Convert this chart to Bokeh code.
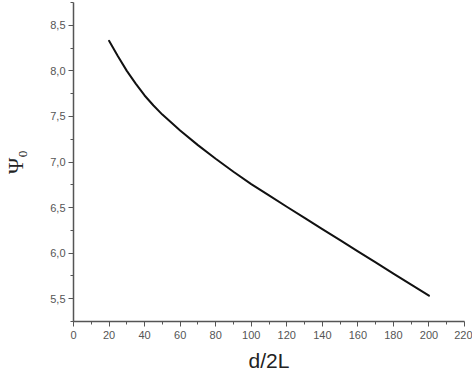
from bokeh.plotting import figure
from bokeh.models import Range1d, FixedTicker, CustomJSTickFormatter
from bokeh.embed import file_html
from bokeh.resources import INLINE

x_vals = [20, 25, 30, 35, 40, 45, 50, 60, 70, 80, 90, 100, 110, 120, 130, 140, 150, 160, 170, 180, 190, 200]
psi_vals = [8.33, 8.16, 8.00, 7.86, 7.73, 7.62, 7.52, 7.345, 7.185, 7.035, 6.893, 6.758, 6.633, 6.509,
            6.386, 6.264, 6.142, 6.020, 5.898, 5.776, 5.655, 5.533]
x_ticks = [0, 20, 40, 60, 80, 100, 120, 140, 160, 180, 200, 220]
y_ticks = [5.5, 6.0, 6.5, 7.0, 7.5, 8.0, 8.5]

p = figure(width=472, height=380, output_backend="svg", toolbar_location=None,
           x_range=Range1d(0, 220), y_range=Range1d(5.25, 8.75),
           min_border_left=73, min_border_right=8, min_border_top=2, min_border_bottom=59)
p.outline_line_color = None
p.grid.visible = False
p.background_fill_color = "white"
p.border_fill_color = "white"

p.line(x_vals, psi_vals, line_color="#111111", line_width=2, line_join="round", line_cap="round")

axcol = "#555555"
for ax in (p.xaxis[0], p.yaxis[0]):
    ax.axis_line_color = axcol
    ax.axis_line_width = 1.5
    ax.major_tick_line_color = axcol
    ax.minor_tick_line_color = axcol
    ax.major_tick_out = 5
    ax.major_tick_in = 0
    ax.minor_tick_out = 3
    ax.minor_tick_in = 0
    ax.major_label_text_font = "Liberation Sans"
    ax.major_label_text_font_size = "11px"
    ax.major_label_text_color = "#555555"

p.xaxis[0].ticker = FixedTicker(ticks=x_ticks, minor_ticks=list(range(10, 220, 20)))
p.yaxis[0].ticker = FixedTicker(ticks=y_ticks, minor_ticks=[5.25, 5.75, 6.25, 6.75, 7.25, 7.75, 8.25, 8.75])
p.yaxis[0].formatter = CustomJSTickFormatter(code="return tick.toFixed(1).replace('.', ',');")
p.xaxis[0].major_label_standoff = 4
p.yaxis[0].major_label_standoff = 3

p.xaxis[0].axis_label = "d/2L"
p.xaxis[0].axis_label_text_font = "Liberation Sans"
p.xaxis[0].axis_label_text_font_style = "normal"
p.xaxis[0].axis_label_text_font_size = "21px"
p.xaxis[0].axis_label_text_color = "#222222"
p.xaxis[0].axis_label_standoff = 7

p.yaxis[0].axis_label = "Ψ₀"
p.yaxis[0].axis_label_text_font = "Liberation Serif"
p.yaxis[0].axis_label_text_font_style = "normal"
p.yaxis[0].axis_label_text_font_size = "22px"
p.yaxis[0].axis_label_text_color = "#222222"
p.yaxis[0].axis_label_standoff = 19

open("out.html", "w").write(file_html(p, INLINE))
